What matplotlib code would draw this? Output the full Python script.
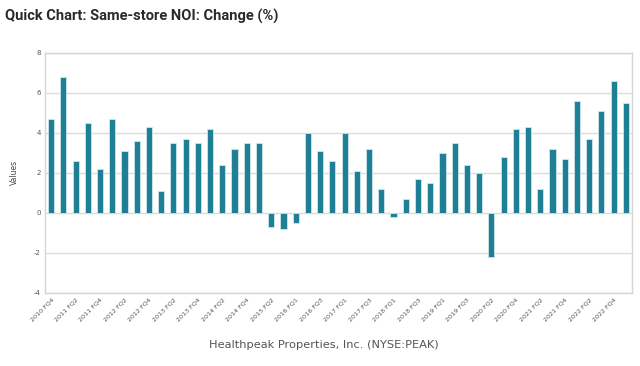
import numpy as np
import matplotlib
matplotlib.use("Agg")
import matplotlib.pyplot as plt

# quarters shown (2015 FQ4 and 2020 FQ1 are absent in the source)
quarters = (
    ["2010 FQ4"]
    + [f"{y} FQ{q}" for y in range(2011, 2015) for q in range(1, 5)]
    + ["2015 FQ1", "2015 FQ2", "2015 FQ3"]
    + [f"{y} FQ{q}" for y in range(2016, 2020) for q in range(1, 5)]
    + [f"{y} FQ{q}" for y in range(2020, 2023) for q in range(1, 5)]
    + ["2023 FQ1"]
)
quarters.remove("2020 FQ1")

noi_change = [
    4.7, 6.8, 2.6, 4.5, 2.2, 4.7, 3.1, 3.6, 4.3, 1.1,
    3.5, 3.7, 3.5, 4.2, 2.4, 3.2, 3.5, 3.5, -0.7, -0.8,
    -0.5, 4.0, 3.1, 2.6, 4.0, 2.1, 3.2, 1.2, -0.2, 0.7,
    1.7, 1.5, 3.0, 3.5, 2.4, 2.0, -2.2, 2.8, 4.2, 4.3,
    1.2, 3.2, 2.7, 5.6, 3.7, 5.1, 6.6, 5.5,
]

y_ticks = [-4, -2, 0, 2, 4, 6, 8]

fig = plt.figure(figsize=(6.4, 3.66), dpi=100)
ax = fig.add_axes([0.0703, 0.2008, 0.9172, 0.6552])

x = np.arange(len(noi_change))
ax.bar(x, noi_change, width=0.5, color="#1f7f94", edgecolor="#cfe6ec",
       linewidth=0.6, zorder=3)

ax.set_xlim(-0.5, len(noi_change) - 0.5)
ax.set_ylim(-4, 8)
ax.set_yticks(y_ticks)
ax.set_yticklabels([str(v) for v in y_ticks], fontsize=5, color="#555555")
ax.grid(axis="y", color="#dcdcdc", lw=1.0, zorder=0)

ax.set_xticks(x[::2])
ax.set_xticklabels(quarters[::2], rotation=45, ha="right",
                   rotation_mode="anchor", fontsize=4.6, color="#555555")
ax.tick_params(axis="both", length=0, pad=3)

for side in ["left", "right", "bottom", "top"]:
    ax.spines[side].set_color("#d6d6d6")
    ax.spines[side].set_linewidth(1.0)

ax.set_ylabel("Values", fontsize=5.5, color="#444444", labelpad=11)

fig.text(0.008, 0.955, "Quick Chart: Same-store NOI: Change (%)",
         fontsize=10.5, fontweight="bold", color="#2a2a2a", va="center",
         family="Roboto")
fig.text(0.506, 0.058, "Healthpeak Properties, Inc. (NYSE:PEAK)",
         fontsize=8.2, color="#555555", ha="center", va="center")

fig.savefig("out.png", dpi=100)
